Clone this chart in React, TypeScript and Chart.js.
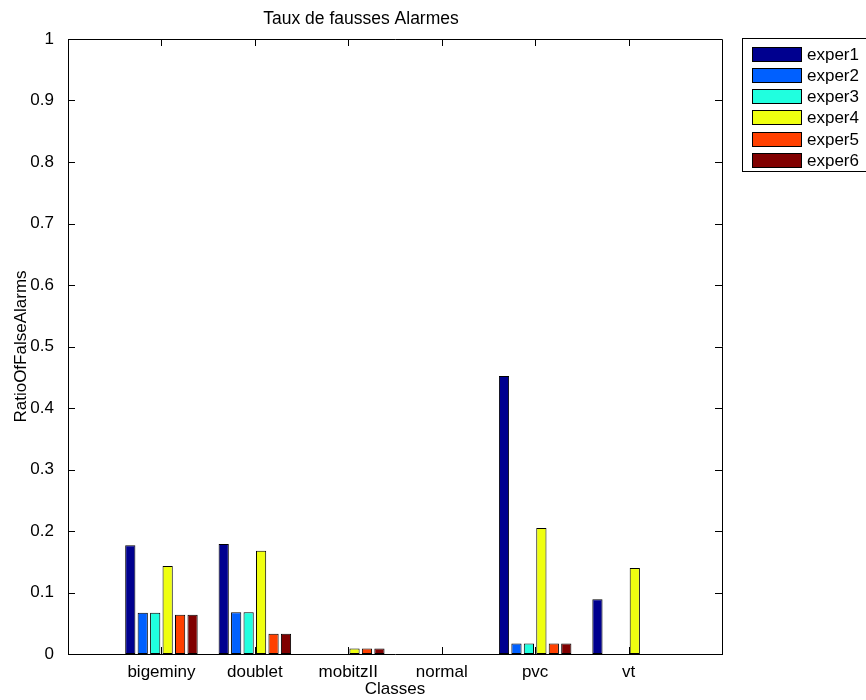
import React, { useEffect, useRef } from "react";
import { Chart, registerables } from "chart.js";

Chart.register(...registerables);

const categories = ["bigeminy", "doublet", "mobitzII", "normal", "pvc", "vt"];
const seriesNames = ["exper1", "exper2", "exper3", "exper4", "exper5", "exper6"];
const exper1 = [0.177, 0.179, 0, 0, 0.452, 0.089];
const exper2 = [0.067, 0.068, 0, 0, 0.017, 0];
const exper3 = [0.067, 0.068, 0, 0, 0.017, 0];
const exper4 = [0.143, 0.168, 0.009, 0, 0.205, 0.14];
const exper5 = [0.064, 0.033, 0.009, 0, 0.017, 0];
const exper6 = [0.064, 0.033, 0.009, 0, 0.017, 0];
const seriesColors = ["#00008F", "#0060FF", "#20FFDF", "#EFFF10", "#FF4000", "#800000"];
const yTickStep = 0.1;

const FONT = '"Liberation Sans", Arial, Helvetica, sans-serif';

const boxAndLegend = {
  id: "boxAndLegend",
  afterDraw(chart: any) {
    const ctx = chart.ctx;
    const { left, right, top, bottom } = chart.chartArea;
    const xs = chart.scales.x;
    const ys = chart.scales.y;
    ctx.save();
    ctx.strokeStyle = "#000";
    ctx.lineWidth = 1;
    // box
    ctx.beginPath();
    ctx.moveTo(left, top + 0.5);
    ctx.lineTo(right + 0.5, top + 0.5);
    ctx.lineTo(right + 0.5, bottom);
    ctx.stroke();
    // inward ticks
    const tl = 7;
    ctx.beginPath();
    ys.ticks.forEach((t: any) => {
      const y = Math.round(ys.getPixelForValue(t.value)) + 0.5;
      ctx.moveTo(left, y);
      ctx.lineTo(left + tl, y);
      ctx.moveTo(right, y);
      ctx.lineTo(right - tl, y);
    });
    xs.ticks.forEach((t: any) => {
      const x = Math.round(xs.getPixelForValue(t.value)) + 0.5;
      ctx.moveTo(x, bottom);
      ctx.lineTo(x, bottom - tl);
      ctx.moveTo(x, top);
      ctx.lineTo(x, top + tl);
    });
    ctx.stroke();

    // legend
    const lx = 742.5;
    const ly = 38.5;
    const lw = 140;
    const lh = 133;
    ctx.fillStyle = "#fff";
    ctx.fillRect(lx, ly, lw, lh);
    ctx.strokeRect(lx, ly, lw, lh);
    ctx.font = "17px " + FONT;
    ctx.textBaseline = "middle";
    ctx.textAlign = "left";
    chart.data.datasets.forEach((ds: any, i: number) => {
      const sy = Math.round(46.7 + i * 21.2) + 0.5;
      ctx.fillStyle = ds.backgroundColor;
      ctx.fillRect(752.5, sy, 49, 14);
      ctx.strokeStyle = "#000";
      ctx.strokeRect(752.5, sy, 49, 14);
      ctx.fillStyle = "#000";
      ctx.fillText(ds.label, 807, sy + 7.5);
    });
    ctx.restore();
  },
};

export default function App() {
  const ref = useRef<HTMLCanvasElement | null>(null);
  useEffect(() => {
    document.body.style.margin = "0";
    const series = [exper1, exper2, exper3, exper4, exper5, exper6];
    const chart = new Chart(ref.current as HTMLCanvasElement, {
      type: "bar",
      data: {
        datasets: series.map((vals, i) => ({
          label: seriesNames[i],
          data: vals.map((v, j) => ({ x: j + 1, y: v })),
          backgroundColor: seriesColors[i],
          borderColor: "#000",
          borderWidth: 1,
          borderSkipped: false,
          categoryPercentage: 0.8,
          barPercentage: 0.82,
        })),
      },
      options: {
        responsive: false,
        animation: false,
        events: [],
        layout: { padding: { left: 0, right: 144, top: 0, bottom: 0 } },
        plugins: {
          legend: { display: false },
          tooltip: { enabled: false },
          title: {
            display: true,
            text: "Taux de fausses Alarmes",
            color: "#000",
            font: { family: FONT, size: 17.5, weight: "normal" },
            padding: { top: 9, bottom: 9 },
          },
        },
        scales: {
          x: {
            type: "linear",
            offset: false,
            min: 0,
            max: categories.length + 1,
            grid: { display: false, offset: false },
            border: { display: true, color: "#000", width: 1 },
            afterBuildTicks: (scale: any) => {
              scale.ticks = categories.map((_, i) => ({ value: i + 1 }));
            },
            afterFit: (scale: any) => {
              scale.height = 46;
            },
            ticks: {
              color: "#000",
              font: { family: FONT, size: 17 },
              padding: 0,
              maxRotation: 0,
              autoSkip: false,
              callback: (v: any) => categories[Math.round(v) - 1] ?? "",
            },
            title: {
              display: true,
              text: "Classes",
              color: "#000",
              font: { family: FONT, size: 17 },
              padding: { top: 0, bottom: 0 },
            },
          },
          y: {
            min: 0,
            max: 1,
            grid: { display: false },
            border: { display: true, color: "#000", width: 1 },
            afterFit: (scale: any) => {
              scale.width = 68;
            },
            ticks: {
              stepSize: yTickStep,
              color: "#000",
              font: { family: FONT, size: 17 },
              padding: 6,
              callback: (v: any) => String(Math.round(Number(v) * 10) / 10),
            },
            title: {
              display: true,
              text: "RatioOfFalseAlarms",
              color: "#000",
              font: { family: FONT, size: 17 },
              padding: { top: 11, bottom: 4 },
            },
          },
        },
      } as any,
      plugins: [boxAndLegend],
    });
    return () => chart.destroy();
  }, []);
  return (
    <div style={{ width: 866, height: 700, background: "#fff" }}>
      <canvas ref={ref} width={866} height={700} />
    </div>
  );
}
